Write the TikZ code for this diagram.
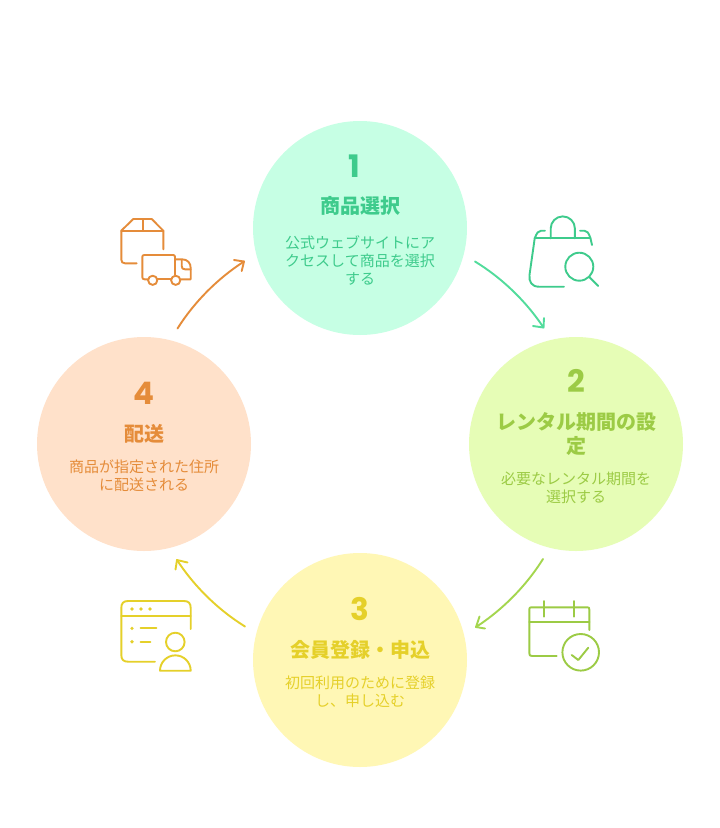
\documentclass[tikz,border=0pt]{standalone}
\usepackage{fontspec}
\setmainfont{Noto Sans CJK JP}
\newfontfamily\digitfont{Poppins}[BoldFont={Poppins Bold}]
\definecolor{cgreen}{HTML}{C6FFE4}\definecolor{tgreen}{HTML}{3ECB8C}
\definecolor{clime}{HTML}{E6FDB6}\definecolor{tlime}{HTML}{9CCB45}
\definecolor{cyellow}{HTML}{FFF7B5}\definecolor{tyellow}{HTML}{E5D02A}
\definecolor{corange}{HTML}{FFE1CA}\definecolor{torange}{HTML}{E58C3A}
\definecolor{agreen}{HTML}{52DC9C}\definecolor{alime}{HTML}{A4D64E}
\tikzset{
  x=1pt,y=-1pt,
  disc/.style={circle,draw=none,minimum size=214pt,inner sep=0pt},
  numlabel/.style={font=\digitfont\bfseries\fontsize{31}{31}\selectfont,inner sep=0pt,anchor=center},
  titlelabel/.style={font=\bfseries\fontsize{20}{24}\selectfont,inner sep=0pt,align=center,anchor=center},
  desclabel/.style={font=\fontsize{15}{18}\selectfont,inner sep=0pt,align=center,anchor=center},
  icon/.style={line width=1.9pt,line cap=round,line join=round},
  flow/.style={line width=1.9pt,line cap=round,line join=round,looseness=0.85},
}
\begin{document}
\begin{tikzpicture}
\useasboundingbox (0,0) rectangle (720,828);
\fill[white] (0,0) rectangle (720,828);
% discs
\node[disc,fill=cgreen] (s1) at (360,228) {};
\node[disc,fill=clime] (s2) at (576,444) {};
\node[disc,fill=cyellow] (s3) at (360,660) {};
\node[disc,fill=corange] (s4) at (144,444) {};
% step 1
\node[numlabel,text=tgreen] (n1) at (354,166) {1};
\node[titlelabel,text=tgreen] (t1) at (360,206) {商品選択};
\node[desclabel,text=tgreen] (d1) at (360,260) {公式ウェブサイトにア\\クセスして商品を選択\\する};
% step 2
\node[numlabel,text=tlime] (n2) at (576,381) {2};
\node[titlelabel,text=tlime] (t2) at (576,434) {レンタル期間の設\\定};
\node[desclabel,text=tlime] (d2) at (576,487.5) {必要なレンタル期間を\\選択する};
% step 3
\node[numlabel,text=tyellow] (n3) at (360,609) {3};
\node[titlelabel,text=tyellow] (t3) at (360,650) {会員登録・申込};
\node[desclabel,text=tyellow] (d3) at (360,691.5) {初回利用のために登録\\し、申し込む};
% step 4
\node[numlabel,text=torange] (n4) at (144,393) {4};
\node[titlelabel,text=torange] (t4) at (144,434) {配送};
\node[desclabel,text=torange] (d4) at (144,475.5) {商品が指定された住所\\に配送される};
% connectors
\coordinate (a1s) at (475,261.5); \coordinate (a1e) at (543.5,327.5);
\coordinate (a2s) at (543,559); \coordinate (a2e) at (476,627);
\coordinate (a3s) at (245,626.5); \coordinate (a3e) at (177,560);
\coordinate (a4s) at (177.5,328.5); \coordinate (a4e) at (244,261.5);
\coordinate (a1p) at (533,326); \coordinate (a1q) at (544,318);
\coordinate (a2p) at (485,628.5); \coordinate (a2q) at (479.5,616.5);
\coordinate (a3p) at (187.5,562.5); \coordinate (a3q) at (175.5,569.5);
\coordinate (a4p) at (234,260); \coordinate (a4q) at (241.7,271);
\draw[flow,agreen] (a1s) to[bend left=12.5] (a1e);
\draw[flow,agreen] (a1p) -- (a1e) -- (a1q);
\draw[flow,alime] (a2s) to[bend left=12.5] (a2e);
\draw[flow,alime] (a2p) -- (a2e) -- (a2q);
\draw[flow,tyellow] (a3s) to[bend left=12.5] (a3e);
\draw[flow,tyellow] (a3p) -- (a3e) -- (a3q);
\draw[flow,torange] (a4s) to[bend left=12.5] (a4e);
\draw[flow,torange] (a4p) -- (a4e) -- (a4q);
% bag icon
\begin{scope}[icon,tgreen]
\draw (534.7,238.3) -- (590.5,238.3);
\draw (550.7,238.3) -- (550.7,228.5) arc[start angle=180,end angle=360,radius=12.1] -- (574.9,238.3);
\draw (545,230.7) -- (541,230.7) .. controls (538.5,230.7) and (537,232.5) .. (534.7,238.3);
\draw (580,230.7) -- (584.5,230.7) .. controls (587,230.7) and (588.5,232.5) .. (590.5,238.3) -- (592,245);
\draw (534.7,238.3) -- (529.5,275) .. controls (528.7,282) and (532,286.7) .. (539,286.7) -- (564,286.7);
\draw (579.3,266.7) circle[radius=14];
\draw (589.3,277) -- (598.3,286);
\end{scope}
% calendar icon
\begin{scope}[icon,tlime]
\draw (589.3,630) -- (589.3,609.3) .. controls (589.3,607.8) and (588.8,607.3) .. (587.3,607.3) -- (531.3,607.3) .. controls (529.8,607.3) and (529.3,607.8) .. (529.3,609.3) -- (529.3,653) .. controls (529.3,655.5) and (529.8,656) .. (532.3,656) -- (556.7,656);
\draw (529.3,621.7) -- (589.3,621.7);
\draw (544.3,601) -- (544.3,616.7);
\draw (574.3,601) -- (574.3,616.7);
\draw (580.7,652.3) circle[radius=18.3];
\draw (571.7,655) -- (578.3,660) -- (588.3,647.7);
\end{scope}
% person window icon
\begin{scope}[icon,tyellow]
\draw (155,661.7) -- (128,661.7) .. controls (123.5,661.7) and (121.3,659.5) .. (121.3,655) -- (121.3,608) .. controls (121.3,603.2) and (123.5,601) .. (128,601) -- (184,601) .. controls (188.5,601) and (190.7,603.2) .. (190.7,608) -- (190.7,629);
\draw (121.3,616) -- (190.7,616);
\fill (132,609) circle[radius=1.8] (141,609) circle[radius=1.8] (150,609) circle[radius=1.8];
\fill (132,628.3) circle[radius=1.8] (132,641.7) circle[radius=1.8];
\draw (140.5,628.3) -- (156.5,628.3);
\draw (140.5,641.7) -- (150.5,641.7);
\draw (175.3,642) circle[radius=9.3];
\draw (160,670.7) arc[start angle=180,end angle=360,radius=15.35] -- cycle;
\end{scope}
% box and truck icon
\begin{scope}[icon,torange]
\draw (136.7,263.3) -- (125,263.3) .. controls (122.5,263.3) and (121.3,262) .. (121.3,259.5) -- (121.3,230.7) -- (133.3,219) -- (151.7,219) -- (163.3,230.7) -- (163.3,249.3);
\draw (121.3,230.7) -- (163.3,230.7);
\draw (142.7,219) -- (142.7,230.7);
\draw (148,279.3) -- (144.5,279.3) .. controls (143,279.3) and (142.3,278.6) .. (142.3,277) -- (142.3,257) .. controls (142.3,255.6) and (143,255) .. (144.5,255) -- (173,255) .. controls (174.4,255) and (175,255.6) .. (175,257) -- (175,275);
\draw (157.3,279.3) -- (171,279.3);
\draw (152.7,280.3) circle[radius=4.6];
\draw (175.7,280.3) circle[radius=4.6];
\draw (176,259.3) -- (182,259.3) .. controls (187.5,259.3) and (190.7,263) .. (190.7,268) -- (190.7,279.3) -- (180.5,279.3);
\draw (181.7,260) -- (181.7,266) .. controls (181.7,268.3) and (182.7,269.3) .. (185,269.3) -- (190.7,269.3);
\end{scope}
\end{tikzpicture}
\end{document}
